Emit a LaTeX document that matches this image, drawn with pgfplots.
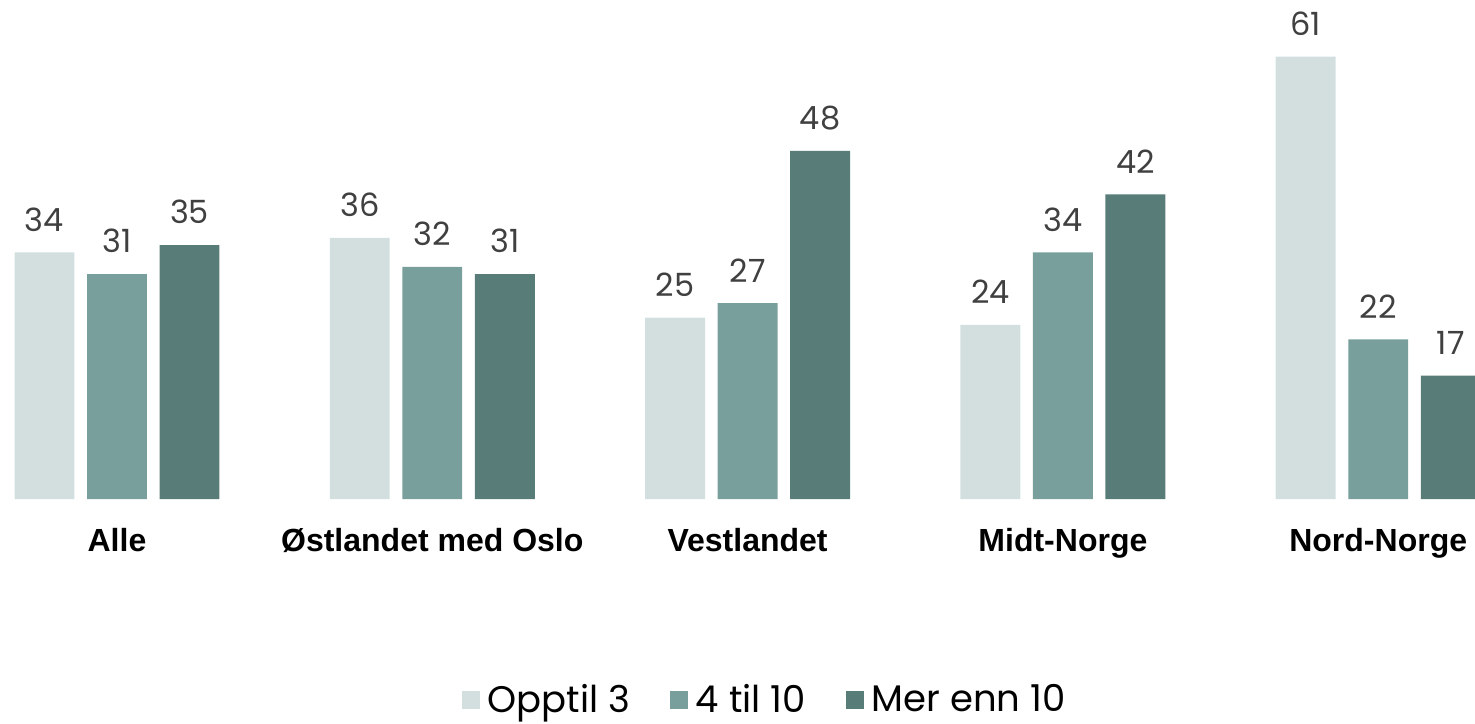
\documentclass[border=0pt]{standalone}
\usepackage{pgfplots}
\pgfplotsset{compat=1.18}
\usepackage{fontspec}
\setmainfont{Poppins}
\newfontfamily\lab{Liberation Sans}
\definecolor{cA}{HTML}{D3DFDF}
\definecolor{cB}{HTML}{789F9B}
\definecolor{cC}{HTML}{587D78}
\definecolor{txt}{HTML}{404040}
\begin{document}
\begin{tikzpicture}
\begin{axis}[
  scale only axis,
  width=737.5pt, height=249.5pt,
  xmin=-0.371, xmax=4.307,
  ymin=0, ymax=68.8,
  clip=false,
  ybar,
  axis line style={draw=none},
  ytick=\empty,
  xtick={0,1,2,3,4},
  xticklabels={Alle,Østlandet med Oslo,Vestlandet,Midt-Norge,Nord-Norge},
  major tick length=0pt,
  xticklabel style={font=\lab\bfseries\fontsize{16}{18}\selectfont, text=black, yshift=-11pt},
  bar width=0.19,
  nodes near coords,
  /pgf/number format/assume math mode=true,
  every node near coord/.append style={font=\fontsize{16}{19}\selectfont, text=txt, yshift=7pt},
  legend columns=3,
  legend style={draw=none, at={(0.519,-0.402)}, anchor=center, font=\fontsize{18.5}{21}\selectfont,
    /tikz/every even column/.append style={column sep=18pt},
    /tikz/every odd column/.append style={column sep=2pt}},
  legend image code/.code={\fill[#1] (0pt,-4.5pt) rectangle (9pt,4.5pt);},
]
\addplot[fill=cA, draw=none, bar shift=-0.23] coordinates {(0,34) (1,36) (2,25) (3,24) (4,61)};
\addlegendentry{Opptil 3}
\addplot[fill=cB, draw=none, bar shift=0] coordinates {(0,31) (1,32) (2,27) (3,34) (4,22)};
\addlegendentry{4 til 10}
\addplot[fill=cC, draw=none, bar shift=0.23] coordinates {(0,35) (1,31) (2,48) (3,42) (4,17)};
\addlegendentry{Mer enn 10}
\end{axis}
\pgfresetboundingbox
\path ([yshift=-112pt]current axis.south west) rectangle (current axis.north east);
\end{tikzpicture}
\end{document}
